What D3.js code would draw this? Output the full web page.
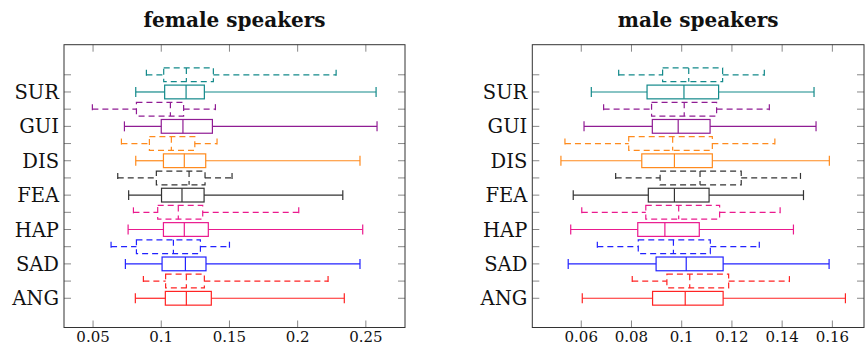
<!DOCTYPE html>
<html>
<head>
<meta charset="utf-8">
<script src="https://cdn.jsdelivr.net/npm/d3@7"></script>
<style>
  body { margin: 0; background: #fff; }
  svg text { font-family: "DejaVu Serif", serif; fill: #111; }
</style>
</head>
<body>
<div id="chart"></div>
<script>
// categories, bottom to top
var categories = ["ANG", "SAD", "HAP", "FEA", "DIS", "GUI", "SUR"];
var colors = ["#ff2323", "#2222ff", "#ea1a8e", "#333333", "#ff8a1c", "#901c94", "#12898a"];

// [lower whisker, q1, median, q3, upper whisker]
var femaleSolid = [
  [0.0810, 0.1030, 0.1184, 0.1367, 0.2342],
  [0.0737, 0.1006, 0.1177, 0.1328, 0.2457],
  [0.0757, 0.1016, 0.1169, 0.1345, 0.2477],
  [0.0761, 0.1002, 0.1152, 0.1314, 0.2331],
  [0.0813, 0.1016, 0.1169, 0.1326, 0.2457],
  [0.0730, 0.1000, 0.1159, 0.1375, 0.2582],
  [0.0813, 0.1025, 0.1182, 0.1316, 0.2575]
];
var femaleDashed = [
  [0.0869, 0.1032, 0.1184, 0.1316, 0.2223],
  [0.0632, 0.0818, 0.1089, 0.1287, 0.1500],
  [0.0796, 0.0974, 0.1125, 0.1304, 0.2008],
  [0.0681, 0.0964, 0.1204, 0.1321, 0.1519],
  [0.0708, 0.0913, 0.1074, 0.1246, 0.1409],
  [0.0495, 0.0818, 0.1067, 0.1164, 0.1397],
  [0.0891, 0.1018, 0.1184, 0.1382, 0.2282]
];
var maleSolid = [
  [0.0604, 0.0884, 0.1014, 0.1165, 0.1652],
  [0.0548, 0.0898, 0.1018, 0.1165, 0.1587],
  [0.0558, 0.0825, 0.0933, 0.1070, 0.1445],
  [0.0568, 0.0867, 0.0971, 0.1109, 0.1485],
  [0.0519, 0.0841, 0.0971, 0.1122, 0.1588],
  [0.0611, 0.0883, 0.0986, 0.1113, 0.1535],
  [0.0640, 0.0862, 0.1009, 0.1147, 0.1527]
];
var maleDashed = [
  [0.0803, 0.0941, 0.1032, 0.1187, 0.1429],
  [0.0664, 0.0827, 0.0967, 0.1114, 0.1309],
  [0.0602, 0.0857, 0.0988, 0.1151, 0.1392],
  [0.0737, 0.0914, 0.1073, 0.1237, 0.1473],
  [0.0535, 0.0789, 0.0964, 0.1122, 0.1371],
  [0.0689, 0.0880, 0.1010, 0.1139, 0.1349],
  [0.0749, 0.0924, 0.1028, 0.1163, 0.1329]
];

var femaleTicks = [0.05, 0.1, 0.15, 0.2, 0.25];
var maleTicks = [0.06, 0.08, 0.1, 0.12, 0.14, 0.16];

var svg = d3.select("#chart").append("svg")
    .attr("width", 865)
    .attr("height", 345);

function drawPanel(opt) {
  var x = d3.scaleLinear().domain(opt.domain).range([opt.left, opt.right]);
  var y = d3.scaleLinear().domain([-0.7, 15.75]).range([327.5, 44.7]);
  var g = svg.append("g");

  // y positions: solid at 2i+1, dashed at 2i+2
  var positions = d3.range(1, 15);

  // ticks (inward, both sides)
  var tickLen = 7;
  var tg = g.append("g").attr("stroke", "#888").attr("stroke-width", 1);
  opt.ticks.forEach(function(t) {
    tg.append("line").attr("x1", x(t)).attr("x2", x(t))
      .attr("y1", y.range()[0]).attr("y2", y.range()[0] - tickLen);
    tg.append("line").attr("x1", x(t)).attr("x2", x(t))
      .attr("y1", y.range()[1]).attr("y2", y.range()[1] + tickLen);
  });
  positions.forEach(function(p) {
    tg.append("line").attr("x1", opt.left).attr("x2", opt.left + tickLen)
      .attr("y1", y(p)).attr("y2", y(p));
    tg.append("line").attr("x1", opt.right).attr("x2", opt.right - tickLen)
      .attr("y1", y(p)).attr("y2", y(p));
  });

  // boxes
  function box(stats, p, color, dashed) {
    var bh = (y(0) - y(0.8)) / 2;   // box half height
    var ch = (y(0) - y(0.58)) / 2;  // whisker cap half height
    var cy = y(p);
    var bg = g.append("g")
      .attr("stroke", color)
      .attr("stroke-width", 1.2)
      .attr("fill", "none")
      .attr("stroke-dasharray", dashed ? "6,4" : null);
    bg.append("line").attr("x1", x(stats[0])).attr("x2", x(stats[1])).attr("y1", cy).attr("y2", cy);
    bg.append("line").attr("x1", x(stats[3])).attr("x2", x(stats[4])).attr("y1", cy).attr("y2", cy);
    bg.append("line").attr("x1", x(stats[0])).attr("x2", x(stats[0])).attr("y1", cy - ch).attr("y2", cy + ch);
    bg.append("line").attr("x1", x(stats[4])).attr("x2", x(stats[4])).attr("y1", cy - ch).attr("y2", cy + ch);
    bg.append("rect").attr("x", x(stats[1])).attr("y", cy - bh)
      .attr("width", x(stats[3]) - x(stats[1])).attr("height", 2 * bh);
    bg.append("line").attr("x1", x(stats[2])).attr("x2", x(stats[2])).attr("y1", cy - bh).attr("y2", cy + bh);
  }

  categories.forEach(function(c, i) {
    box(opt.solid[i], 2 * i + 1, colors[i], false);
    box(opt.dashed[i], 2 * i + 2, colors[i], true);
  });

  // frame
  g.append("rect")
    .attr("x", opt.left).attr("y", y.range()[1])
    .attr("width", opt.right - opt.left).attr("height", y.range()[0] - y.range()[1])
    .attr("fill", "none").attr("stroke", "#333").attr("stroke-width", 1);

  // tick labels
  opt.ticks.forEach(function(t) {
    g.append("text").attr("x", x(t)).attr("y", 341.5)
      .attr("text-anchor", "middle").attr("font-size", 15)
      .text(d3.format("~g")(t));
  });
  categories.forEach(function(c, i) {
    g.append("text").attr("x", opt.left - 5).attr("y", y(2 * i + 1) + 7)
      .attr("text-anchor", "end").attr("font-size", 19.5)
      .text(c);
  });

  // title
  g.append("text").attr("x", (opt.left + opt.right) / 2).attr("y", 27)
    .attr("text-anchor", "middle").attr("font-size", 20).attr("font-weight", "bold")
    .text(opt.title);
}

drawPanel({
  title: "female speakers",
  left: 64, right: 405,
  domain: [0.0287, 0.2787],
  ticks: femaleTicks,
  solid: femaleSolid, dashed: femaleDashed
});

drawPanel({
  title: "male speakers",
  left: 532.3, right: 864,
  domain: [0.0405, 0.1726],
  ticks: maleTicks,
  solid: maleSolid, dashed: maleDashed
});
</script>
</body>
</html>
